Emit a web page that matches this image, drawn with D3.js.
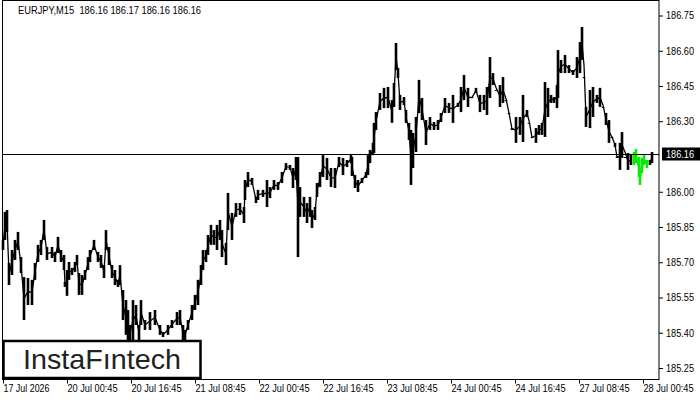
<!DOCTYPE html>
<html><head><meta charset="utf-8">
<script src="https://cdn.jsdelivr.net/npm/d3@7/dist/d3.min.js"></script>
<style>html,body{margin:0;padding:0;background:#fff}svg{display:block}text{font-family:"Liberation Sans",sans-serif}</style>
</head><body><svg id="c" width="700" height="400"></svg>
<script>
const symbolLine = "EURJPY,M15  186.16 186.17 186.16 186.16";
const lastPrice = 186.16;
const brand = "InstaFıntech";
const priceTicks = [186.75,186.60,186.45,186.30,186.00,185.85,185.70,185.55,185.40,185.25];
const timeTicks = [0,64,128,192,256,320,384,448,512,576,640];
const timeLabels = ["17 Jul 2026","20 Jul 00:45","20 Jul 16:45","21 Jul 08:45","22 Jul 00:45","22 Jul 16:45","23 Jul 08:45","24 Jul 00:45","24 Jul 16:45","27 Jul 08:45","28 Jul 00:45"];
const barIndex = [0,2,4,6,9,12,15,18,21,25,29,32,35,38,41,44,49,52,55,58,61,62,64,66,69,72,74,76,79,82,85,87,91,95,98,101,103,106,109,112,115,117,120,123,125,127,130,133,136,138,142,147,152,157,160,165,169,174,177,180,182,185,189,192,195,198,200,203,205,208,211,214,217,219,223,225,229,233,237,241,242,245,249,253,255,260,264,267,271,275,279,283,287,290,293,295,297,301,304,307,309,312,314,317,320,324,328,332,336,340,344,348,349,352,355,359,363,365,367,370,371,373,377,381,385,389,391,393,395,397,401,403,406,408,410,413,416,419,423,427,431,435,438,442,446,450,455,458,461,465,469,473,477,481,484,487,490,493,497,500,503,506,509,513,517,520,524,526,529,533,536,539,542,545,548,551,554,555,558,562,566,570,574,577,579,581,583,587,590,594,597,600,603,606,609,612,614,617,619,622,625,628,647,649];
const highs = [185.795,185.914,185.922,185.697,185.752,185.795,185.829,185.722,185.637,185.633,185.625,185.697,185.774,185.795,185.880,185.765,185.765,185.744,185.808,185.752,185.731,185.616,185.667,185.701,185.676,185.701,185.731,185.654,185.646,185.667,185.722,185.752,185.795,185.744,185.731,185.688,185.837,185.765,185.688,185.667,185.625,185.688,185.582,185.539,185.497,185.433,185.539,185.518,185.433,185.539,185.454,185.488,185.497,185.433,185.403,185.433,185.454,185.488,185.497,185.433,185.412,185.454,185.518,185.561,185.625,185.688,185.752,185.752,185.816,185.859,185.837,185.859,185.880,185.837,185.782,185.995,185.910,185.952,185.952,185.935,186.050,186.084,186.059,185.978,186.008,186.008,186.050,186.020,186.050,186.041,186.084,186.122,186.114,186.101,186.148,186.148,186.020,185.978,185.952,185.978,185.922,185.935,186.037,186.084,186.156,186.144,186.101,186.101,186.148,186.144,186.135,186.156,186.148,186.071,186.050,186.059,186.084,186.156,186.178,186.208,186.293,186.339,186.420,186.442,186.446,186.390,186.463,186.633,186.527,186.412,186.403,186.348,186.293,186.263,186.250,186.318,186.476,186.399,186.305,186.318,186.297,186.305,186.335,186.399,186.378,186.412,186.378,186.446,186.497,186.442,186.403,186.442,186.412,186.412,186.446,186.573,186.505,186.433,186.454,186.488,186.390,186.335,186.271,186.318,186.318,186.412,186.348,186.293,186.233,186.271,186.284,186.293,186.467,186.442,186.412,186.403,186.454,186.603,186.561,186.582,186.539,186.518,186.573,186.637,186.701,186.488,186.361,186.433,186.446,186.412,186.442,186.361,186.335,186.305,186.233,186.208,186.148,186.208,186.254,186.148,186.165,186.156,186.135,186.169];
const lows = [185.752,185.795,185.829,185.603,185.646,185.710,185.752,185.654,185.454,185.518,185.518,185.625,185.701,185.731,185.795,185.710,185.718,185.701,185.739,185.701,185.667,185.595,185.557,185.625,185.646,185.659,185.688,185.561,185.561,185.625,185.667,185.701,185.752,185.701,185.676,185.633,185.752,185.688,185.633,185.603,185.595,185.603,185.454,185.391,185.369,185.361,185.369,185.433,185.361,185.433,185.412,185.412,185.433,185.391,185.382,185.391,185.420,185.433,185.433,185.369,185.369,185.412,185.454,185.497,185.518,185.603,185.667,185.701,185.731,185.774,185.774,185.752,185.795,185.722,185.688,185.837,185.795,185.893,185.901,185.867,185.965,186.020,186.029,185.952,185.965,185.978,185.935,185.973,186.008,186.008,186.037,186.093,186.093,186.016,186.050,185.722,185.893,185.893,185.867,185.893,185.846,185.880,185.978,186.020,186.063,186.050,186.020,186.016,186.105,186.071,186.105,186.122,186.067,186.016,185.999,186.037,186.059,186.071,186.122,186.156,186.165,186.263,186.348,186.356,186.356,186.293,186.361,186.518,186.484,186.348,186.369,186.293,186.220,186.029,186.101,186.169,186.335,186.305,186.199,186.263,186.263,186.263,186.297,186.335,186.335,186.293,186.361,186.339,186.390,186.361,186.399,186.420,186.339,186.348,186.327,186.399,186.454,186.454,186.361,186.378,186.403,186.335,186.263,186.208,186.242,186.212,186.318,186.314,186.229,186.208,186.242,186.242,186.233,186.318,186.378,186.378,186.356,186.399,186.505,186.505,186.505,186.497,186.484,186.505,186.561,186.590,186.276,186.271,186.318,186.378,186.361,186.378,186.284,186.208,186.233,186.191,186.148,186.093,186.144,186.191,186.093,186.114,186.114,186.122,186.127];
const greenIndex = [631,633,636,637,639,641,644];
const greenHighs = [186.169,186.182,186.148,186.093,186.144,186.161,186.135];
const greenLows = [186.114,186.122,186.063,186.029,186.080,186.114,186.101];

const svg = d3.select("#c");
const x = d3.scaleLinear().domain([0,640]).range([3,643]);
const y = d3.scaleLinear().domain([186.75,185.25]).range([15.5,368]);

// bars: high-low columns, joined by a thin line
svg.append("g").selectAll("rect").data(barIndex).join("rect")
  .attr("x",d=>x(d)-1.3).attr("width",2.6)
  .attr("y",(d,i)=>y(highs[i])).attr("height",(d,i)=>Math.max(1,y(lows[i])-y(highs[i])))
  .attr("fill","#000");
const mid = d3.line().x(d=>x(barIndex[d])).y(d=>y((highs[d]+lows[d])/2));
svg.append("path").attr("d",mid(d3.range(barIndex.length).filter(i=>barIndex[i]<=628))).attr("fill","none").attr("stroke","#000").attr("stroke-width",1.3);
svg.append("path").attr("d",mid(d3.range(barIndex.length).filter(i=>barIndex[i]>=647))).attr("fill","none").attr("stroke","#000").attr("stroke-width",1.3);

// green pattern
const gMid = d3.line().x(d=>x(greenIndex[d])).y(d=>y((greenHighs[d]+greenLows[d])/2));
svg.append("g").selectAll("rect").data(greenIndex).join("rect")
  .attr("x",d=>x(d)-1.3).attr("width",2.6)
  .attr("y",(d,i)=>y(greenHighs[i])).attr("height",(d,i)=>y(greenLows[i])-y(greenHighs[i]))
  .attr("fill","#00ee00");
svg.append("path").attr("d",gMid(d3.range(greenIndex.length))).attr("fill","none").attr("stroke","#00ee00").attr("stroke-width",2.2);

// current price line
const py = Math.round(y(lastPrice));
svg.append("line").attr("x1",3).attr("x2",659).attr("y1",py+0.5).attr("y2",py+0.5).attr("stroke","#000").attr("stroke-width",1);

// frame
svg.append("rect").attr("x",2.5).attr("y",0.5).attr("width",656.5).attr("height",379).attr("fill","none").attr("stroke","#000").attr("stroke-width",1);

// axes
const ay = svg.append("g").attr("transform","translate(659,0)")
  .call(d3.axisRight(y).tickValues(priceTicks).tickFormat(d3.format(".2f")).tickSize(4).tickPadding(3));
ay.select(".domain").remove();
ay.selectAll("line").attr("stroke","#000");
ay.selectAll("text").attr("fill","#000").attr("font-size","10.5px").attr("font-family","Liberation Sans").attr("textLength",28).attr("lengthAdjust","spacingAndGlyphs");

const ax = svg.append("g").attr("transform","translate(0,379.5)")
  .call(d3.axisBottom(x).tickValues(timeTicks).tickFormat((d,i)=>timeLabels[i]).tickSize(4).tickPadding(1));
ax.select(".domain").remove();
ax.selectAll("line").attr("stroke","#000");
ax.selectAll("text").attr("fill","#000").attr("font-size","10.5px").attr("font-family","Liberation Sans").attr("text-anchor","start").attr("textLength",(d,i)=>i===0?46:50).attr("lengthAdjust","spacingAndGlyphs");

// last price label
svg.append("rect").attr("x",662).attr("y",py-6.5).attr("width",38).attr("height",13).attr("fill","#000");
svg.append("text").attr("x",666).attr("y",py+4).attr("fill","#fff").attr("font-size","10.5px").attr("textLength",28).attr("lengthAdjust","spacingAndGlyphs").text(d3.format(".2f")(lastPrice));

// header
svg.append("text").attr("x",18).attr("y",14).attr("fill","#000").attr("font-size","10.5px").attr("textLength",183).attr("lengthAdjust","spacingAndGlyphs").style("white-space","pre").text(symbolLine);

// logo
svg.append("rect").attr("x",3.5).attr("y",341).attr("width",197).attr("height",37).attr("fill","#fff").attr("stroke","#000").attr("stroke-width",2.5);
svg.append("text").attr("x",23).attr("y",369).attr("fill","#222").attr("font-size","28px").attr("font-weight",500).attr("font-family","Inter").attr("textLength",158).attr("lengthAdjust","spacingAndGlyphs").text(brand);
</script></body></html>
